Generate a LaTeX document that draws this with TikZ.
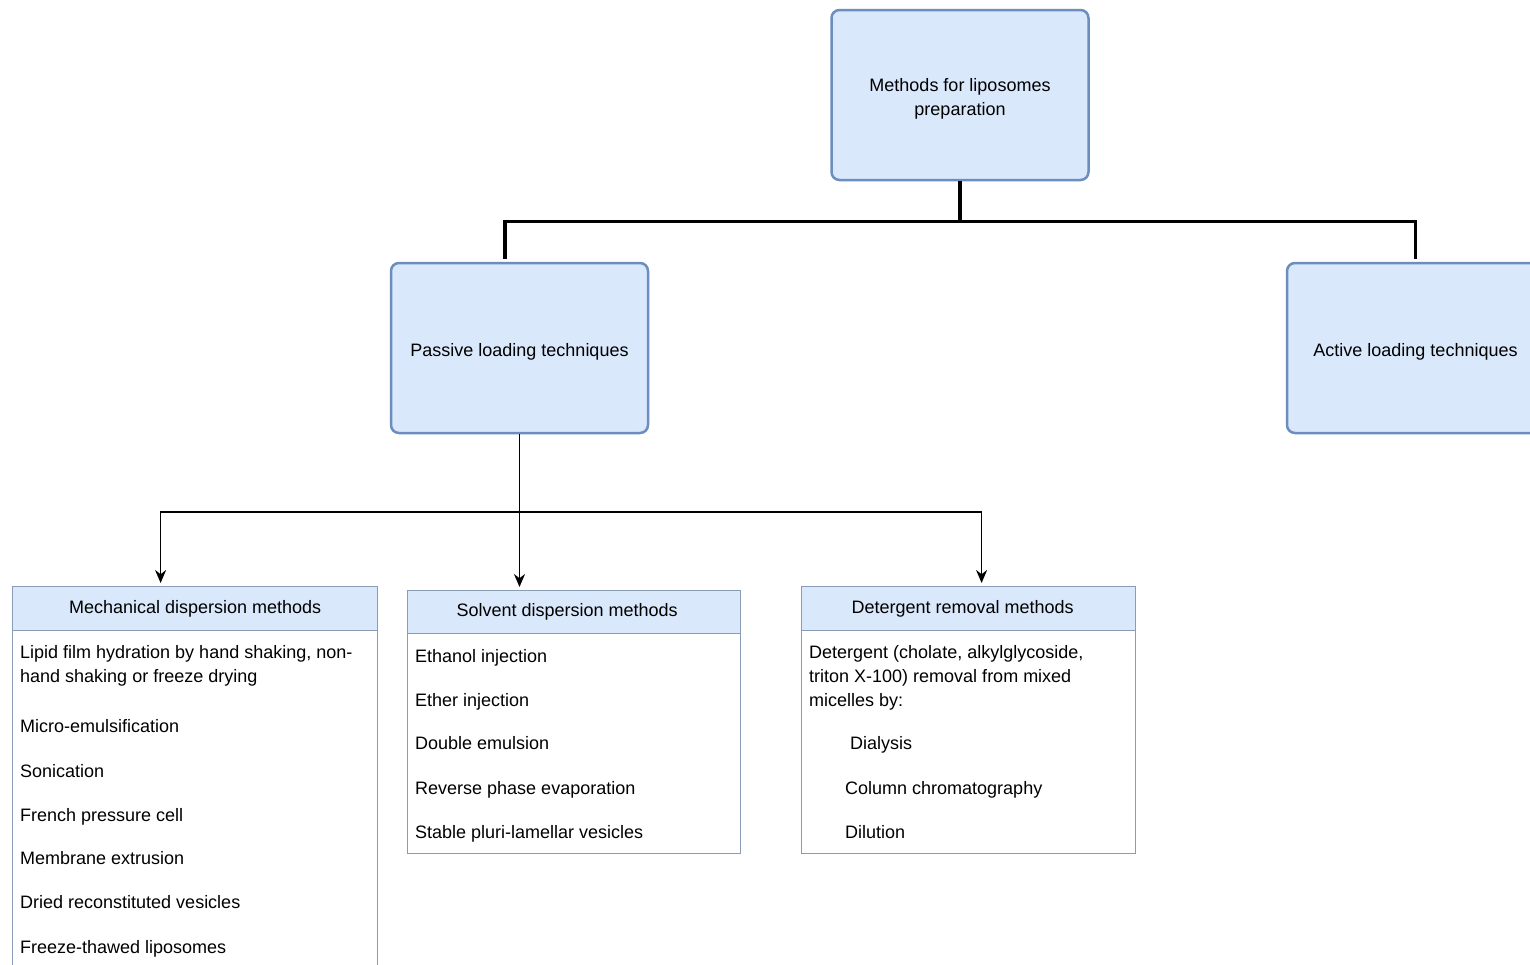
\documentclass[tikz,border=0pt]{standalone}
\usepackage{fontspec}
\setmainfont{Liberation Sans}
\usepackage{tikz}
\usetikzlibrary{arrows.meta}

\definecolor{paleblue}{HTML}{DAE8FC}
\definecolor{frameblue}{HTML}{6C8EBF}
\definecolor{framegray}{HTML}{8A9BB8}

\begin{document}
\begin{tikzpicture}[x=1pt,y=-1pt,>={Stealth[length=13pt,width=11pt]},shorten >=3pt,
                      main node/.style={rectangle,rounded corners=8pt,draw=frameblue,line width=2.5pt,fill=paleblue,
                        minimum width=257pt,minimum height=170pt,inner sep=0pt,align=center,text height=21pt},
                      list head/.style={rectangle,draw=framegray,line width=1.2pt,fill=paleblue,
                        minimum height=44pt,inner sep=0pt,anchor=north west},
                      list body/.style={rectangle,draw=framegray,line width=1.2pt,fill=white,inner sep=0pt,anchor=north west},
                      item/.style={anchor=base west,inner sep=0pt},
                      font=\fontsize{18}{24}\selectfont]

    \clip (0,0) rectangle (1530,964);
    \fill[white] (0,0) rectangle (1530,964);

    % Nodes
    \node[main node,text height=45pt] (top) at (960,95) {Methods for liposomes\\preparation};
    \node[main node] (passive) at (519.5,348) {Passive loading techniques};
    \node[main node] (active) at (1415.5,348) {Active loading techniques};

    \node[list body,minimum width=365pt,minimum height=345pt] (mechbody) at (12,630) {};
    \node[list head,minimum width=365pt] (mechhead) at (12,586) {Mechanical dispersion methods};
    \node[list body,minimum width=333pt,minimum height=220pt] (solvbody) at (407,633) {};
    \node[list head,minimum width=333pt,minimum height=43pt] (solvhead) at (407,590) {Solvent dispersion methods\kern14pt};
    \node[list body,minimum width=334pt,minimum height=223pt] (detbody) at (801,630) {};
    \node[list head,minimum width=334pt] (dethead) at (801,586) {Detergent removal methods\kern12pt};

    % Items
    \node[item] (mech1) at (20,658) {Lipid film hydration by hand shaking, non-};
    \node[item] (mech1b) at (20,682) {hand shaking or freeze drying};
    \node[item] (mech2) at (20,732) {Micro-emulsification};
    \node[item] (mech3) at (20,777) {Sonication};
    \node[item] (mech4) at (20,821) {French pressure cell};
    \node[item] (mech5) at (20,864) {Membrane extrusion};
    \node[item] (mech6) at (20,908) {Dried reconstituted vesicles};
    \node[item] (mech7) at (20,953) {Freeze-thawed liposomes};

    \node[item] (solv1) at (415,662) {Ethanol injection};
    \node[item] (solv2) at (415,706) {Ether injection};
    \node[item] (solv3) at (415,749) {Double emulsion};
    \node[item] (solv4) at (415,794) {Reverse phase evaporation};
    \node[item] (solv5) at (415,838) {Stable pluri-lamellar vesicles};

    \node[item] (det1) at (809,658) {Detergent (cholate, alkylglycoside,};
    \node[item] (det1b) at (809,682) {triton X-100) removal from mixed};
    \node[item] (det1c) at (809,706) {micelles by:};
    \node[item] (det2) at (850,749) {Dialysis};
    \node[item] (det3) at (845,794) {Column chromatography};
    \node[item] (det4) at (845,838) {Dilution};

    % Paths
    \draw[line width=3.5pt] (top.south) -- ++(0,40) -| ([xshift=-14.5pt]passive.north);
    \draw[line width=3.5pt] (top.south) -- ++(0,40) -| (active.north);

    \draw[->,line width=1.6pt] (passive.south) -- ++(0,78) -| ([xshift=-34.5pt]mechhead.north);
    \draw[->,line width=1.6pt] (passive.south) -- (passive.south |- solvhead.north);
    \draw[->,line width=1.6pt] (passive.south) -- ++(0,78) -| ([xshift=13pt]dethead.north);

  \end{tikzpicture}
\end{document}
